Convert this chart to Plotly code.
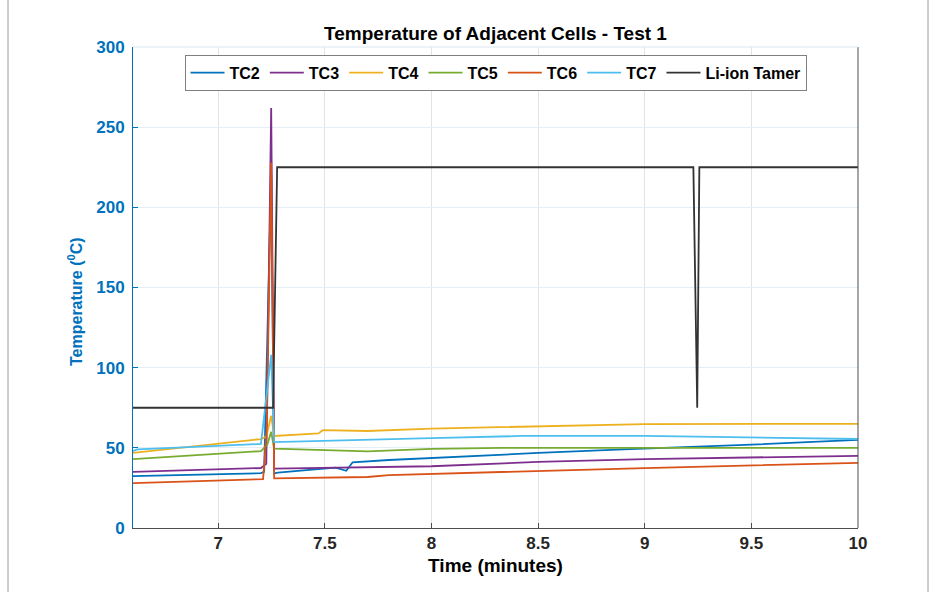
import plotly.graph_objects as go

# ---- data ----
tc2_t = [6.6, 6.9, 7.2, 7.215, 7.248, 7.262, 7.28, 7.4, 7.55, 7.6, 7.63, 7.8, 8.2, 8.5, 8.9, 9.5, 10]
tc2_v = [32.4, 33.2, 34.2, 35, 220, 34, 34.5, 36, 37.6, 35.7, 41, 42.4, 45, 46.8, 49, 52, 55]

tc3_t = [6.6, 7.2, 7.225, 7.248, 7.262, 7.55, 8.0, 8.5, 9.0, 10]
tc3_v = [35, 37.4, 40, 262, 37, 37.6, 38.5, 41.2, 43, 45]

tc4_t = [6.6, 7.2, 7.225, 7.248, 7.262, 7.47, 7.49, 7.7, 8.0, 8.5, 9.0, 10]
tc4_v = [46.8, 55.5, 57, 70, 57.4, 59, 61, 60.5, 62, 63.5, 64.8, 65]

tc5_t = [6.6, 7.2, 7.23, 7.248, 7.262, 7.5, 7.7, 8.0, 8.33, 10]
tc5_v = [43, 48, 52, 60, 49.5, 48.5, 47.8, 49.3, 50, 50]

tc6_t = [6.6, 7.21, 7.227, 7.248, 7.262, 7.7, 7.8, 8.5, 9.0, 10]
tc6_v = [28, 30.5, 60, 228, 31, 31.8, 33, 35.6, 37.4, 40.6]

tc7_t = [6.6, 6.62, 7.2, 7.248, 7.262, 7.5, 8.0, 8.42, 9.0, 10]
tc7_v = [48, 49, 52.4, 108, 53.6, 54.5, 56, 57.4, 57.4, 55.5]

tamer_t = [6.6, 7.257, 7.276, 9.228, 9.246, 9.256, 10]
tamer_v = [75, 75, 225, 225, 75, 225, 225]

names = ["TC2", "TC3", "TC4", "TC5", "TC6", "TC7", "Li-ion Tamer"]
colors = ["#0072BD", "#7E2F8E", "#EDB120", "#77AC30", "#D95319", "#4DBEEE", "#333333"]
series_t = [tc2_t, tc3_t, tc4_t, tc5_t, tc6_t, tc7_t, tamer_t]
series_v = [tc2_v, tc3_v, tc4_v, tc5_v, tc6_v, tc7_v, tamer_v]

x_ticks = [7, 7.5, 8, 8.5, 9, 9.5, 10]
y_ticks = [0, 50, 100, 150, 200, 250, 300]

FONT = "Liberation Sans, Arial, sans-serif"
BLUE = "#0072BD"

fig = go.Figure()
for n, c, t, v in zip(names, colors, series_t, series_v):
    fig.add_trace(go.Scatter(x=t, y=v, mode="lines", name=f"<b>{n}</b>",
                             line=dict(color=c, width=1.8)))

fig.update_layout(
    width=937, height=592,
    margin=dict(l=133, r=79, t=47, b=64),
    paper_bgcolor="white", plot_bgcolor="white",
    font=dict(family=FONT, size=15, color="#262626"),
    title=dict(text="<b>Temperature of Adjacent Cells - Test 1</b>",
               x=(133 + 858) / 2 / 937, xanchor="center", y=1 - 33 / 592, yanchor="middle",
               font=dict(family=FONT, size=19, color="#000000")),
    showlegend=True,
    legend=dict(orientation="h", x=0.5, xanchor="center", y=0.984, yanchor="top",
                bgcolor="white", bordercolor="#7f7f7f", borderwidth=1,
                font=dict(family=FONT, size=16, color="#000000"),
                itemwidth=34, tracegroupgap=0),
    xaxis=dict(range=[6.6, 10], tickvals=x_ticks, ticktext=[f"<b>{v:g}</b>" for v in x_ticks],
               showline=True, linecolor="#4d4d4d", linewidth=1,
               ticks="inside", ticklen=5, tickcolor="#4d4d4d",
               showgrid=True, gridcolor="#e3e3e3", gridwidth=1, zeroline=False,
               tickfont=dict(family=FONT, size=17, color="#262626"),
               title=dict(text="<b>Time (minutes)</b>", standoff=6,
                          font=dict(family=FONT, size=19, color="#000000"))),
    yaxis=dict(range=[0, 300], tickvals=y_ticks, ticktext=[f"<b>{v}</b>" for v in y_ticks],
               showline=True, linecolor=BLUE, linewidth=1,
               ticks="inside", ticklen=5, tickcolor=BLUE, ticklabelstandoff=4,
               showgrid=True, gridcolor="#e4eef7", gridwidth=1, zeroline=False,
               tickfont=dict(family=FONT, size=17, color=BLUE)),
)

# y-axis title placed as in the reference
fig.add_annotation(text="<b>Temperature (<sup>0</sup>C)</b>", textangle=-90,
                   xref="paper", yref="paper", x=(75 - 133) / 725, y=(528 - 302) / 481,
                   xanchor="center", yanchor="middle", showarrow=False,
                   font=dict(family=FONT, size=16, color=BLUE))

# right and top frame of the axes box
fig.add_shape(type="line", xref="paper", yref="paper", x0=1, x1=1, y0=0, y1=1,
              line=dict(color="#4d4d4d", width=1))
fig.add_shape(type="line", xref="paper", yref="paper", x0=0, x1=1, y0=1, y1=1,
              line=dict(color="#d8e6f2", width=1))
# outer picture frame
fig.add_shape(type="line", xref="paper", yref="paper", x0=-125 / 725, x1=-125 / 725,
              y0=-64 / 481, y1=528 / 481, line=dict(color="#9a9a9a", width=1))
fig.add_shape(type="line", xref="paper", yref="paper", x0=795 / 725, x1=795 / 725,
              y0=-64 / 481, y1=528 / 481, line=dict(color="#9a9a9a", width=1))

fig.write_html("out.html")
